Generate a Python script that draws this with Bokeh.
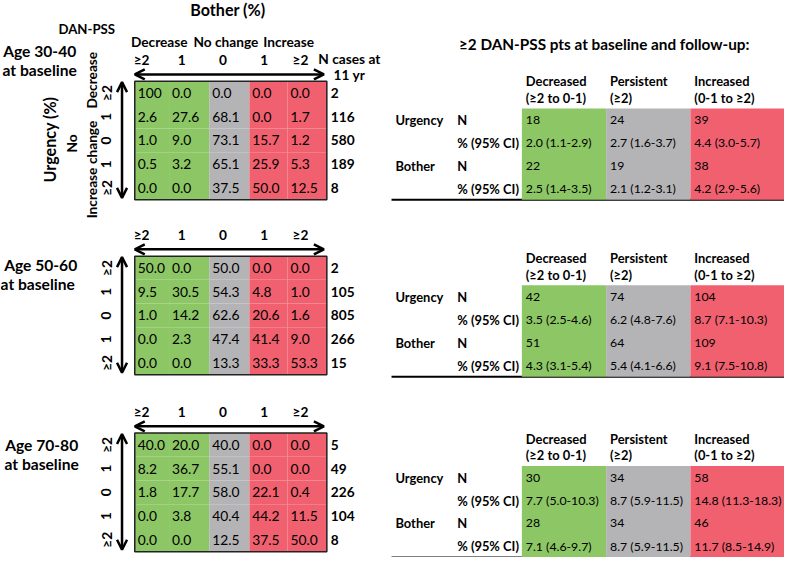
import math
from bokeh.plotting import figure
from bokeh.models import ColumnDataSource, Range1d, Arrow, OpenHead
from bokeh.core.properties import value
from bokeh.embed import file_html
from bokeh.resources import INLINE

# ---------------- data ----------------
col_labels = ["≥2", "1", "0", "1", "≥2"]
row_labels = ["≥2", "1", "0", "1", "≥2"]
col_groups = ["Decrease", "No change", "Increase"]
age_line1 = ["Age 30-40", "Age 50-60", "Age 70-80"]
age_line2 = ["at baseline", "at baseline", "at baseline"]

bother_30_40 = [[100, 0.0, 0.0, 0.0, 0.0],
                [2.6, 27.6, 68.1, 0.0, 1.7],
                [1.0, 9.0, 73.1, 15.7, 1.2],
                [0.5, 3.2, 65.1, 25.9, 5.3],
                [0.0, 0.0, 37.5, 50.0, 12.5]]
n_30_40 = [2, 116, 580, 189, 8]

bother_50_60 = [[50.0, 0.0, 50.0, 0.0, 0.0],
                [9.5, 30.5, 54.3, 4.8, 1.0],
                [1.0, 14.2, 62.6, 20.6, 1.6],
                [0.0, 2.3, 47.4, 41.4, 9.0],
                [0.0, 0.0, 13.3, 33.3, 53.3]]
n_50_60 = [2, 105, 805, 266, 15]

bother_70_80 = [[40.0, 20.0, 40.0, 0.0, 0.0],
                [8.2, 36.7, 55.1, 0.0, 0.0],
                [1.8, 17.7, 58.0, 22.1, 0.4],
                [0.0, 3.8, 40.4, 44.2, 11.5],
                [0.0, 0.0, 12.5, 37.5, 50.0]]
n_70_80 = [5, 49, 226, 104, 8]

outcome_head = ["Decreased", "Persistent", "Increased"]
outcome_sub = ["(≥2 to 0-1)", "(≥2)", "(0-1 to ≥2)"]

urg_n_30_40 = [18, 24, 39]
urg_pct_30_40 = [2.0, 2.7, 4.4]
urg_lo_30_40 = [1.1, 1.6, 3.0]
urg_hi_30_40 = [2.9, 3.7, 5.7]
bot_n_30_40 = [22, 19, 38]
bot_pct_30_40 = [2.5, 2.1, 4.2]
bot_lo_30_40 = [1.4, 1.2, 2.9]
bot_hi_30_40 = [3.5, 3.1, 5.6]

urg_n_50_60 = [42, 74, 104]
urg_pct_50_60 = [3.5, 6.2, 8.7]
urg_lo_50_60 = [2.5, 4.8, 7.1]
urg_hi_50_60 = [4.6, 7.6, 10.3]
bot_n_50_60 = [51, 64, 109]
bot_pct_50_60 = [4.3, 5.4, 9.1]
bot_lo_50_60 = [3.1, 4.1, 7.5]
bot_hi_50_60 = [5.4, 6.6, 10.8]

urg_n_70_80 = [30, 34, 58]
urg_pct_70_80 = [7.7, 8.7, 14.8]
urg_lo_70_80 = [5.0, 5.9, 11.3]
urg_hi_70_80 = [10.3, 11.5, 18.3]
bot_n_70_80 = [28, 34, 46]
bot_pct_70_80 = [7.1, 8.7, 11.7]
bot_lo_70_80 = [4.6, 5.9, 8.5]
bot_hi_70_80 = [9.7, 11.5, 14.9]

# ---------------- layout ----------------
GREEN = "#8CC665"
GRAY = "#B4B4B6"
RED = "#F0606F"
FONT = value("Lato")
SC = 0.975


def fs(px):
    return f"{px * SC:.1f}px"


p = figure(width=784, height=557, x_range=Range1d(0, 800), y_range=Range1d(573, 0),
           output_backend="svg", toolbar_location=None, min_border=0,
           x_axis_type=None, y_axis_type=None, outline_line_color=None)
p.grid.visible = False
p.background_fill_color = "white"


def add_text(xs, ys, texts, size, bold=True, align="center", angle=0.0, color="black"):
    src = ColumnDataSource(dict(x=xs, y=ys, t=texts))
    p.text("x", "y", text="t", source=src, text_font=FONT, text_font_size=fs(size),
           text_font_style="bold" if bold else "normal", text_align=align,
           text_baseline="middle", angle=angle, text_color=color)


def fmt_cell(v):
    return "100" if v == 100 else f"{v:.1f}"


panels = [(bother_30_40, n_30_40), (bother_50_60, n_50_60), (bother_70_80, n_70_80)]
grid_top = [83, 263, 445]
ROW_H = 24.4
col_left = [137, 172, 213, 254, 293]
col_right = [172, 213, 254, 293, 333]
col_color = [GREEN, GREEN, GRAY, RED, RED]
head_x = [144, 185, 227, 269, 306]

cl, cr, ct, cb, cc = [], [], [], [], []
vx, vy, vt = [], [], []
nx, ny, nt = [], [], []
hx, hy, ht = [], [], []
rx, ry, rt = [], [], []
for k, (vals, ns) in enumerate(panels):
    top = grid_top[k]
    for i in range(5):
        yc = top + ROW_H * (i + 0.5)
        for j in range(5):
            cl.append(col_left[j]); cr.append(col_right[j])
            ct.append(top + ROW_H * i); cb.append(top + ROW_H * (i + 1))
            cc.append(col_color[j])
            vx.append(col_left[j] + 3); vy.append(yc); vt.append(fmt_cell(vals[i][j]))
        nx.append(337); ny.append(yc); nt.append(str(ns[i]))
        rx.append(108); ry.append(yc); rt.append(row_labels[i])
    for j in range(5):
        hx.append(head_x[j]); hy.append(top - 22); ht.append(col_labels[j])
    # arrows
    p.add_layout(Arrow(start=OpenHead(size=10, line_width=2.5), end=OpenHead(size=10, line_width=2.5),
                       x_start=col_left[0], y_start=top - 7, x_end=col_right[-1] - 3, y_end=top - 7,
                       line_width=2.5))
    p.add_layout(Arrow(start=OpenHead(size=10, line_width=2.5), end=OpenHead(size=10, line_width=2.5),
                       x_start=124, y_start=top + 1, x_end=124, y_end=top + 5 * ROW_H - 2,
                       line_width=2.5))

p.quad(left=cl, right=cr, top=ct, bottom=cb, fill_color=cc, line_color=None)
# borders above fills
for k in range(3):
    top = grid_top[k]
    p.quad(left=[col_left[0]], right=[col_right[-1]], top=[top], bottom=[top + 5 * ROW_H],
           fill_color=None, line_color="#222222", line_width=1.5)

add_text(vx, vy, vt, 14.2, bold=False, align="left")
add_text(nx, ny, nt, 14, bold=True, align="left")
add_text(hx, hy, ht, 14, bold=True)
add_text(rx, ry, rt, 14, bold=True, angle=math.pi / 2)

# panel-1 headers
add_text([232], [9], ["Bother (%)"], 16.5)
add_text([88], [29], ["DAN-PSS"], 13.5)
add_text([162, 230, 294], [42, 42, 42], col_groups, 14)
add_text([356, 356], [60, 76], ["N cases at", "11 yr"], 14)
add_text([50], [143], ["Urgency (%)"], 16.5, angle=math.pi / 2)
add_text([93, 72, 93, 93], [82, 147, 146, 198], ["Decrease", "No", "change", "Increase"], 14,
         angle=math.pi / 2)

# age labels
age_y = [52, 272, 457]
add_text([40, 41, 42], age_y, age_line1, 16)
add_text([40, 38, 42], [y + 20 for y in age_y], age_line2, 16)

# ---------------- right tables ----------------
tables = [
    (urg_n_30_40, urg_pct_30_40, urg_lo_30_40, urg_hi_30_40, bot_n_30_40, bot_pct_30_40, bot_lo_30_40, bot_hi_30_40),
    (urg_n_50_60, urg_pct_50_60, urg_lo_50_60, urg_hi_50_60, bot_n_50_60, bot_pct_50_60, bot_lo_50_60, bot_hi_50_60),
    (urg_n_70_80, urg_pct_70_80, urg_lo_70_80, urg_hi_70_80, bot_n_70_80, bot_pct_70_80, bot_lo_70_80, bot_hi_70_80),
]
tab_top = [111, 293, 479]
T_ROW = 23.5
t_left = [532, 618, 704]
t_right = [618, 704, 800]
t_color = [GREEN, GRAY, RED]

add_text([616], [45], ["≥2 DAN-PSS pts at baseline and follow-up:"], 15.7)

ql, qr, qt, qb, qc = [], [], [], [], []
tx, ty, tt = [], [], []
lx, ly, lt = [], [], []
ohx, ohy, oht = [], [], []
for k, tab in enumerate(tables):
    un, up, ulo, uhi, bn, bp, blo, bhi = tab
    top = tab_top[k]
    bottom = top + 4 * T_ROW
    for j in range(3):
        ql.append(t_left[j]); qr.append(t_right[j]); qt.append(top); qb.append(bottom); qc.append(t_color[j])
        rows = [str(un[j]), f"{up[j]:.1f} ({ulo[j]:.1f}-{uhi[j]:.1f})",
                str(bn[j]), f"{bp[j]:.1f} ({blo[j]:.1f}-{bhi[j]:.1f})"]
        for i, s in enumerate(rows):
            tx.append(t_left[j] + 4); ty.append(top + 12 + T_ROW * i); tt.append(s)
        ohx += [t_left[j] + 4, t_left[j] + 4]
        ohy += [top - 28, top - 11]
        oht += [outcome_head[j], outcome_sub[j]]
    for i, (a, b) in enumerate([("Urgency", "N"), ("", "% (95% CI)"), ("Bother", "N"), ("", "% (95% CI)")]):
        yy = top + 12 + T_ROW * i
        if a:
            lx.append(403); ly.append(yy); lt.append(a)
        lx.append(466); ly.append(yy); lt.append(b)
    p.segment(x0=[399], y0=[bottom], x1=[800], y1=[bottom], line_color="black", line_width=2)

p.quad(left=ql, right=qr, top=qt, bottom=qb, fill_color=qc, line_color=None)
add_text(tx, ty, tt, 12.6, bold=False, align="left")
add_text(lx, ly, lt, 13.2, bold=True, align="left")
add_text(ohx, ohy, oht, 13.2, bold=True, align="left")

open("out.html", "w").write(file_html(p, INLINE))
